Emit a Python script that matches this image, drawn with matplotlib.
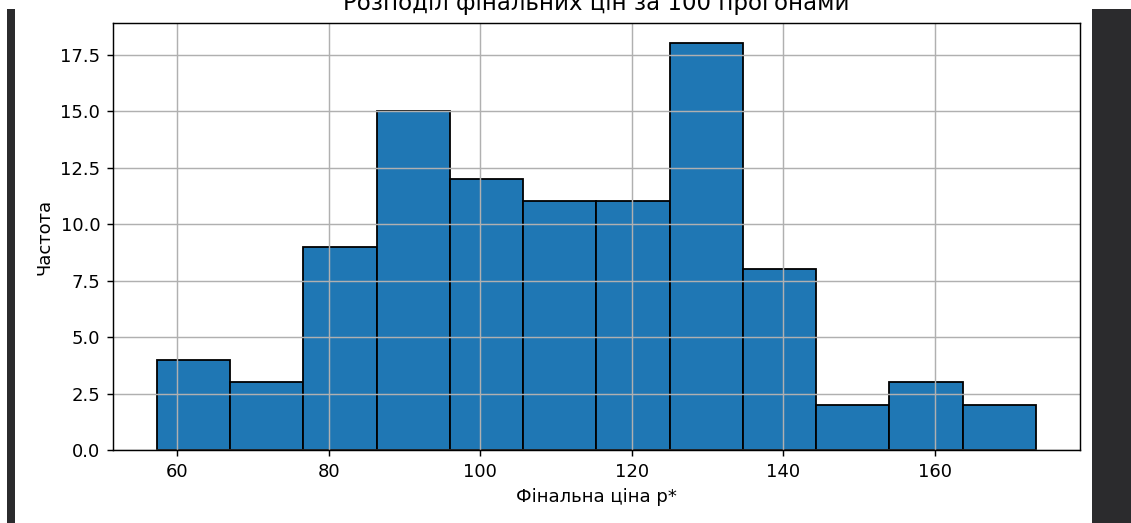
import matplotlib
matplotlib.use("Agg")
import matplotlib.pyplot as plt
from matplotlib.patches import Rectangle

# final prices histogram: bin edges and counts per bin
bin_edges = [57.3, 67.0, 76.6, 86.3, 96.0, 105.7, 115.3, 125.0, 134.7, 144.3, 154.0, 163.7, 173.4]
counts = [4, 3, 9, 15, 12, 11, 11, 18, 8, 2, 3, 2]

W, H, DPI = 1131, 523, 130
fig = plt.figure(figsize=(W / DPI, H / DPI), dpi=DPI)
fig.patch.set_facecolor('white')

ax = fig.add_axes([113 / W, 1 - 450 / H, (1080 - 113) / W, (450 - 23) / H])
ax.hist(bin_edges[:-1], bins=bin_edges, weights=counts, color='#1f77b4', edgecolor='black')
ax.set_title('Розподіл фінальних цін за 100 прогонами', fontsize=12.7, pad=7.2)
ax.set_xlabel('Фінальна ціна p*')
ax.set_ylabel('Частота')
ax.grid(True)

# dark editor panels framing the plot
dark = '#2b2b2d'
fig.add_artist(Rectangle((7 / W, 0), 8 / W, 1 - 9 / H, transform=fig.transFigure,
                         facecolor=dark, edgecolor='none'))
fig.add_artist(Rectangle((1092 / W, 0), 39 / W, 1 - 9 / H, transform=fig.transFigure,
                         facecolor=dark, edgecolor='none'))

fig.savefig('out.png', dpi=DPI)
